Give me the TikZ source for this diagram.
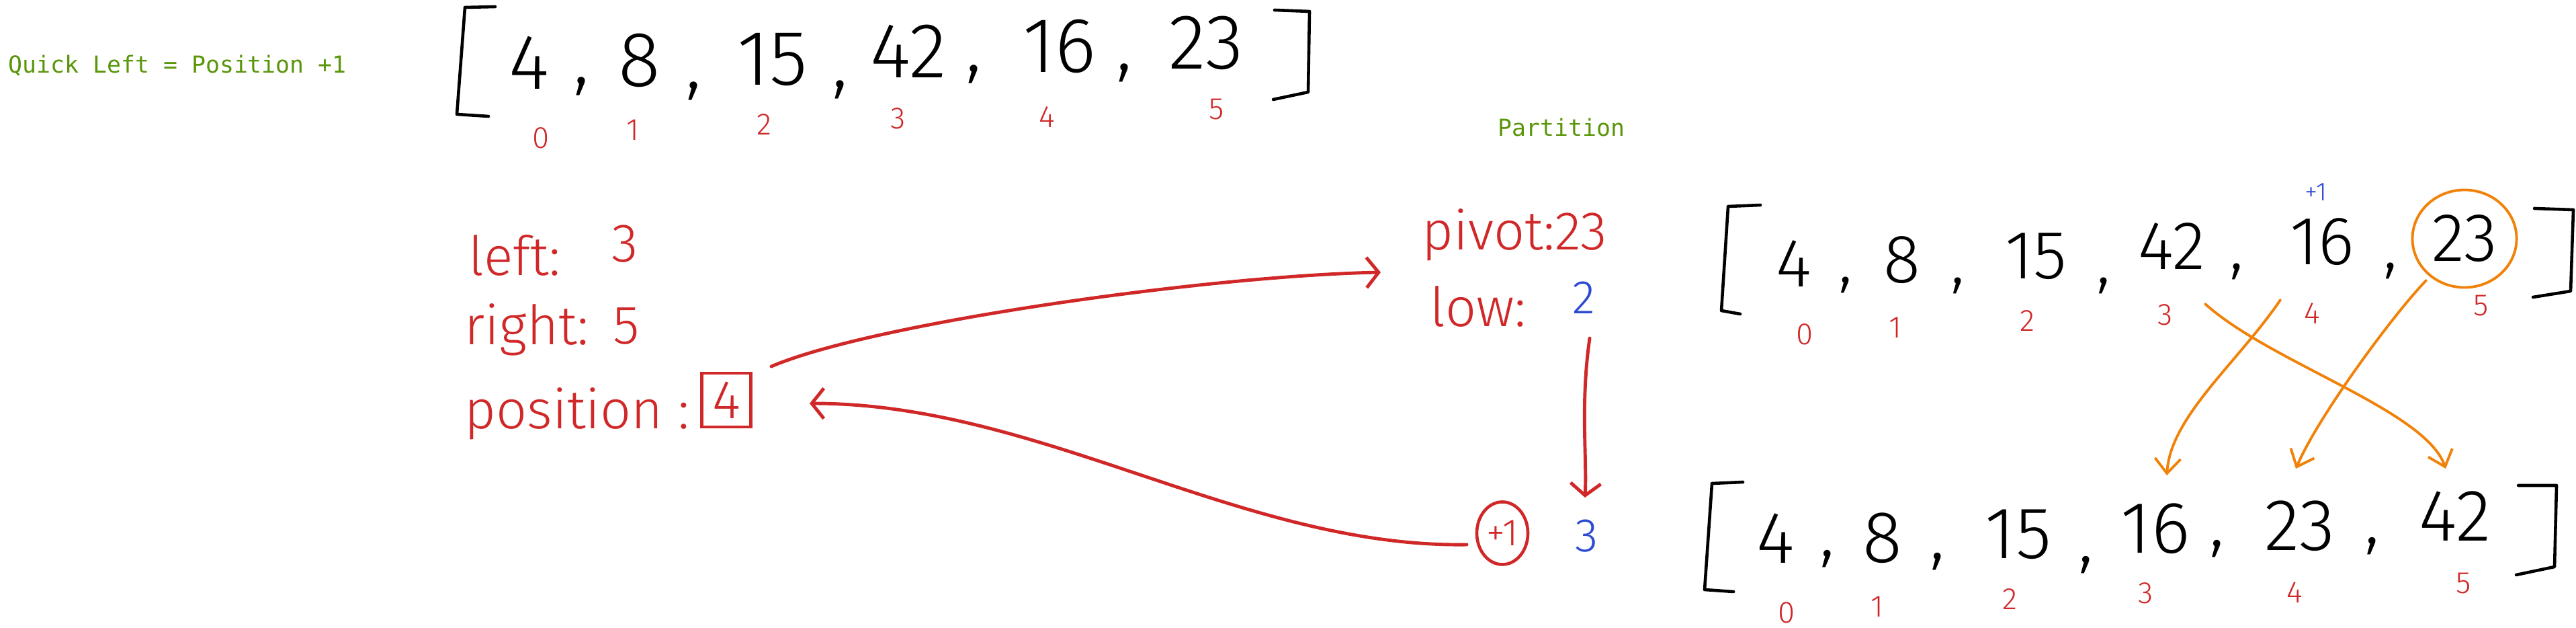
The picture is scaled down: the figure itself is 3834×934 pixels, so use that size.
\documentclass[tikz,border=0pt]{standalone}
\usepackage{fontspec}
\usetikzlibrary{arrows.meta,calc,shapes.geometric}
\newfontfamily\hand{Fira Sans Light}
\newfontfamily\monof{DejaVu Sans Mono}
\definecolor{inkred}{RGB}{208,40,40}
\definecolor{inkblue}{RGB}{45,75,210}
\definecolor{inkgreen}{RGB}{90,150,10}
\definecolor{inkorange}{RGB}{240,130,10}
\begin{document}
\begin{tikzpicture}[x=0.01cm,y=-0.01cm,
 digA/.style={font=\hand\fontsize{33}{36}\selectfont,inner sep=0pt},
 digB/.style={font=\hand\fontsize{29}{32}\selectfont,inner sep=0pt},
 digC/.style={font=\hand\fontsize{31}{34}\selectfont,inner sep=0pt},
 idx/.style={font=\hand\fontsize{13}{15}\selectfont,text=inkred,inner sep=0pt},
 lbl/.style={font=\hand\fontsize{23}{26}\selectfont,text=inkred,inner sep=0pt},
 bval/.style={font=\hand\fontsize{20}{22}\selectfont,text=inkblue,inner sep=0pt},
 note/.style={font=\monof\fontsize{9.9}{12}\selectfont,text=inkgreen,inner sep=0pt},
 brk/.style={draw=black,line width=1.3pt,line cap=round,line join=round},
 redarrow/.style={draw=inkred,line width=1.4pt,line cap=round,-{Straight Barb[length=0.18cm,width=0.45cm]}},
 orarrow/.style={draw=inkorange,line width=1.1pt,line cap=round,-{Straight Barb[length=0.22cm,width=0.38cm]}},
]
\useasboundingbox[fill=white] (0,0) rectangle (3834,934);

% green notes
\node[note,anchor=west] (ql) at (12,98) {Quick Left = Position +1};
\node[note,anchor=west] (part) at (2229,190) {Partition};

% ---------- top-left array ----------
\draw[brk] (737,10) -- (692,11) -- (680,170) -- (727,173);
\draw[brk] (1897,15) -- (1949,17) -- (1947,137) -- (1895,148);
\node[digA] (tl0) at (788,93) {4};
\node[digA] (tlc0) at (865,128) {,};
\node[digA] (tl1) at (952,90) {8};
\node[digA] (tlc1) at (1032,135) {,};
\node[digA] (tl2) at (1150,89) {15};
\node[digA] (tlc2) at (1250,133) {,};
\node[digA] (tl3) at (1352,76) {42};
\node[digA] (tlc3) at (1449,110) {,};
\node[digA] (tl4) at (1577,69) {16};
\node[digA] (tlc4) at (1673,108) {,};
\node[digA] (tl5) at (1795,64) {23};
\node[idx] (tli0) at (805,205) {0};
\node[idx] (tli1) at (942,193) {1};
\node[idx] (tli2) at (1137,185) {2};
\node[idx] (tli3) at (1337,176) {3};
\node[idx] (tli4) at (1558,174) {4};
\node[idx] (tli5) at (1811,163) {5};

% ---------- variables ----------
\node[lbl,anchor=base west] (left) at (697,410) {left:};
\node[lbl,anchor=base west] (leftv) at (910,390) {3};
\node[lbl,anchor=base west] (right) at (691,513) {right:};
\node[lbl,anchor=base west] (rightv) at (912,512) {5};
\node[lbl,anchor=base west] (pos) at (691,638) {position :};
\node[lbl,draw=inkred,line width=1.3pt,minimum width=0.73cm,minimum height=0.8cm] (posbox) at (1081,595) {4};

\node[lbl,anchor=base west] (pivot) at (2116,372) {pivot:23};
\node[lbl,anchor=base west] (low) at (2128,486) {low:};
\node[bval] (lowv) at (2357,443) {2};
\node[draw=inkred,line width=1.3pt,ellipse,minimum width=0.76cm,minimum height=0.93cm,inner sep=0pt,
      font=\hand\fontsize{16}{18}\selectfont,text=inkred] (plus) at (2236,793) {+1};
\node[bval] (three) at (2362,797) {3};

% red connectors
\draw[redarrow] ($(posbox)+(67,-50)$) .. controls (1300,480) and (1800,410) .. ($(pivot.base west)+(-61,33)$);
\draw[redarrow] ($(lowv)+(9,60)$) .. controls (2352,600) and (2362,680) .. ($(three)+(-3,-57)$);
\draw[redarrow] ($(plus)+(-53,17)$) .. controls (1850,815) and (1550,600) .. ($(posbox)+(124,5)$);

% ---------- top-right array ----------
\draw[brk] (2620,305) -- (2572,307) -- (2562,462) -- (2590,467);
\draw[brk] (3772,310) -- (3830,312) -- (3826,433) -- (3770,442);
\node[digB] (tr0) at (2670,392) {4};
\node[digB] (trc0) at (2747,424) {,};
\node[digB] (tr1) at (2831,387) {8};
\node[digB] (trc1) at (2914,425) {,};
\node[digB] (tr2) at (3030,381) {15};
\node[digB] (trc2) at (3131,425) {,};
\node[digB] (tr3) at (3232,366) {42};
\node[digB] (trc3) at (3329,404) {,};
\node[digB] (tr4) at (3456,360) {16};
\node[digB] (trc4) at (3558,403) {,};
\node[digB,draw=inkorange,line width=1.1pt,ellipse,minimum width=1.55cm,minimum height=1.45cm] (tr5) at (3668,355) {23};
\node[font=\hand\fontsize{11}{13}\selectfont,text=inkblue,inner sep=0pt] (plusb) at (3447,286) {+1};
\node[idx] (tri0) at (2686,497) {0};
\node[idx] (tri1) at (2821,487) {1};
\node[idx] (tri2) at (3017,477) {2};
\node[idx] (tri3) at (3223,468) {3};
\node[idx] (tri4) at (3441,466) {4};
\node[idx] (tri5) at (3693,455) {5};

% ---------- bottom array ----------
\draw[brk] (2594,717) -- (2548,719) -- (2537,877) -- (2580,880);
\draw[brk] (3748,722) -- (3805,722) -- (3802,843) -- (3745,855);
\node[digC] (bt0) at (2643,801) {4};
\node[digC] (btc0) at (2720,831) {,};
\node[digC] (bt1) at (2802,800) {8};
\node[digC] (btc1) at (2884,835) {,};
\node[digC] (bt2) at (3004,795) {15};
\node[digC] (btc2) at (3105,840) {,};
\node[digC] (bt3) at (3208,786) {16};
\node[digC] (btc3) at (3300,816) {,};
\node[digC] (bt4) at (3423,782) {23};
\node[digC] (btc4) at (3531,812) {,};
\node[digC] (bt5) at (3654,768) {42};
\node[idx] (bti0) at (2659,911) {0};
\node[idx] (bti1) at (2794,902) {1};
\node[idx] (bti2) at (2991,891) {2};
\node[idx] (bti3) at (3194,882) {3};
\node[idx] (bti4) at (3415,881) {4};
\node[idx] (bti5) at (3667,868) {5};

% orange moves
\draw[orarrow] ($(tr3)+(50,86)$) .. controls (3380,540) and (3610,610) .. ($(bt5)+(-14,-71)$);
\draw[orarrow] ($(tr4)+(-62,86)$) .. controls (3330,540) and (3230,620) .. ($(bt3)+(17,-79)$);
\draw[orarrow] ($(tr5)+(-57,62)$) .. controls (3560,470) and (3450,620) .. ($(bt4)+(-6,-85)$);
\end{tikzpicture}
\end{document}
